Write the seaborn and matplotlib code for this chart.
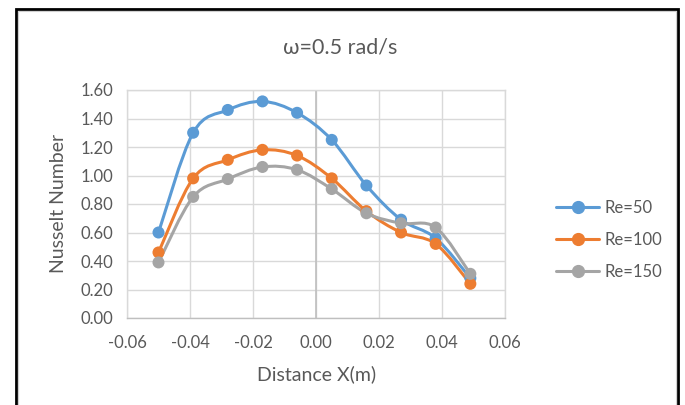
import matplotlib
matplotlib.use("Agg")
import matplotlib.pyplot as plt
import numpy as np
import pandas as pd
import seaborn as sns
from matplotlib.lines import Line2D
from matplotlib.patches import PathPatch, Rectangle
from matplotlib.path import Path
from matplotlib import ticker

# data
x_pos = [-0.050, -0.039, -0.028, -0.017, -0.006, 0.005, 0.016, 0.027, 0.038, 0.049]
re50 = [0.60, 1.30, 1.46, 1.52, 1.44, 1.25, 0.93, 0.69, 0.56, 0.28]
re100 = [0.46, 0.98, 1.11, 1.18, 1.14, 0.98, 0.75, 0.60, 0.52, 0.24]
re150 = [0.39, 0.85, 0.975, 1.06, 1.04, 0.905, 0.735, 0.665, 0.635, 0.31]
series_names = ["Re=50", "Re=100", "Re=150"]
series_colors = ["#5B9BD5", "#ED7D31", "#A5A5A5"]
y_ticks = [0.0, 0.2, 0.4, 0.6, 0.8, 1.0, 1.2, 1.4, 1.6]
x_ticks = [-0.06, -0.04, -0.02, 0.0, 0.02, 0.04, 0.06]


def smooth_path(xs, ys):
    # Excel-style smoothed line: Catmull-Rom segments as cubic Bezier curves
    pts = np.column_stack([xs, ys])
    verts = [pts[0]]
    codes = [Path.MOVETO]
    n = len(pts)
    for i in range(n - 1):
        p0 = pts[i - 1] if i > 0 else pts[i]
        p1 = pts[i]
        p2 = pts[i + 1]
        p3 = pts[i + 2] if i + 2 < n else pts[i + 1]
        c1 = p1 + (p2 - p0) / 6.0
        c2 = p2 - (p3 - p1) / 6.0
        verts += [c1, c2, p2]
        codes += [Path.CURVE4] * 3
    return Path(verts, codes)


df = pd.DataFrame({
    "x": x_pos * 3,
    "y": re50 + re100 + re150,
    "series": [s for s in series_names for _ in x_pos],
})

sns.set_theme(style="white")
plt.rcParams["font.family"] = ["Lato", "DejaVu Sans"]
plt.rcParams["axes.unicode_minus"] = False
txt_col = "#595959"

fig = plt.figure(figsize=(6.85, 4.05), dpi=100)
ax = fig.add_axes([127 / 685, 1 - 318 / 405, (505 - 127) / 685, (318 - 90) / 405])

for ys, col in zip([re50, re100, re150], series_colors):
    ax.add_patch(PathPatch(smooth_path(x_pos, ys), fill=False, edgecolor=col,
                           lw=2.2, capstyle="round", joinstyle="round", zorder=3))

sns.scatterplot(data=df, x="x", y="y", hue="series", palette=series_colors,
                s=75, edgecolor="none", legend=False, ax=ax, zorder=4)

ax.set_xlim(-0.06, 0.06)
ax.set_ylim(0, 1.6)
ax.set_xticks(x_ticks)
ax.set_yticks(y_ticks)
ax.xaxis.set_major_formatter(ticker.FormatStrFormatter("%.2f"))
ax.yaxis.set_major_formatter(ticker.FormatStrFormatter("%.2f"))
ax.grid(True, color="#d9d9d9", lw=1.0)
ax.set_axisbelow(True)
ax.axvline(0, color="#bfbfbf", lw=1.2, zorder=1)
for name, sp in ax.spines.items():
    sp.set_color("#d9d9d9")
    sp.set_linewidth(1.0)
ax.spines["bottom"].set_color("#bfbfbf")
ax.tick_params(axis="both", length=0, labelsize=12, labelcolor=txt_col)
ax.tick_params(axis="y", pad=10)
ax.tick_params(axis="x", pad=12)
ax.set_xlabel("")
ax.set_ylabel("")

fig.text(317 / 685, 1 - 374 / 405, "Distance X(m)", fontsize=14, color=txt_col,
         ha="center", va="center")
fig.text(58 / 685, 1 - 203 / 405, "Nusselt Number", fontsize=14, color=txt_col,
         ha="center", va="center", rotation=90)
fig.text(340 / 685, 1 - 47 / 405, "ω=0.5 rad/s", fontsize=15.5, color=txt_col,
         ha="center", va="center")

handles = [Line2D([0], [0], color=c, lw=2.2, marker="o", markersize=8.5)
           for c in series_colors]
fig.legend(handles, series_names, loc="center left", bbox_to_anchor=(541 / 685, 1 - 240 / 405),
           frameon=False, fontsize=12, labelcolor=txt_col, handlelength=2.6,
           handletextpad=0.3, labelspacing=0.95)

# outer frame of the screenshot: black line with a faint grey inner edge
fig.patches.append(Rectangle((15.5 / 685, -0.1), (678 - 15.5) / 685, 1.1 - 9 / 405,
                             transform=fig.transFigure, fill=False, edgecolor="black",
                             lw=2, clip_on=False))
fig.patches.append(Rectangle((18 / 685, -0.1), (676 - 18) / 685, 1.1 - 11.5 / 405,
                             transform=fig.transFigure, fill=False, edgecolor="#d0d0d0",
                             lw=0.8, clip_on=False))

fig.savefig("out.png", dpi=100)
